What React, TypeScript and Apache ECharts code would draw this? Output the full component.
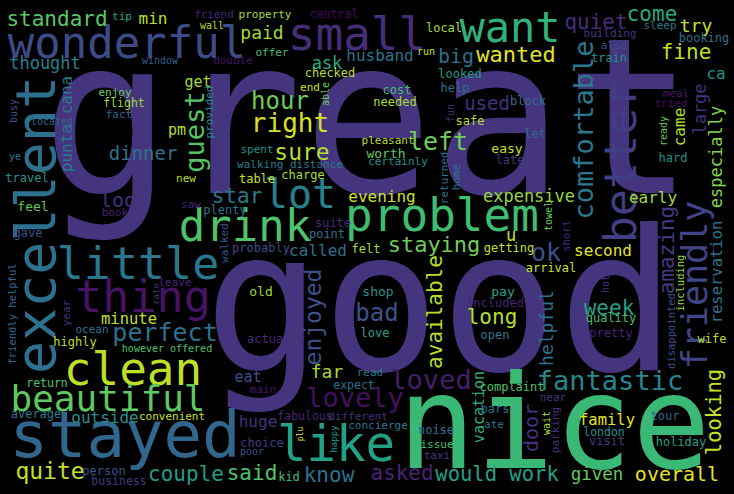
import React, { useEffect, useRef } from "react";
import * as echarts from "echarts";

// word cloud: each word is a scatter point carrying a text label
const words = [
  "great", "good", "nice", "stayed", "excellent", "small", "problem", "clean", "wonderful", "drink",
  "little", "thing", "like", "better", "want", "lot", "beautiful", "friendly", "comfortable", "fantastic",
  "lovely", "loved", "guest", "right", "perfect", "left", "ok", "bad", "hour", "sure",
  "quite", "enjoyed", "wanted", "staying", "quiet", "come", "fine", "star", "long", "week",
  "amazing", "available", "standard", "couple", "said", "know", "asked", "would work", "overall", "looking",
  "door", "big", "look", "dinner", "used", "try", "paid", "far", "helpful", "given",
  "ask", "expensive", "thought", "especially", "large", "u", "husband", "punta cana", "evening", "outside",
  "called", "early", "second", "came", "huge", "ca", "min", "minute", "family", "reservation",
  "get", "pm", "eat", "vacation", "worth", "shop", "easy", "pay", "old", "feel",
  "local", "looked", "help", "cost", "needed", "block", "safe", "let", "late", "checked",
  "pleasant", "certainly", "train", "booking", "hard", "travel", "gave", "table", "charge", "plenty",
  "suite", "point", "probably", "felt", "getting", "arrival", "included", "quality", "pretty", "highly",
  "return", "average", "person", "business", "actually", "choice", "kid", "love", "open", "complaint",
  "bars", "noise", "tour", "holiday", "visit", "wife", "expect", "london", "fabulous", "ate",
  "issue", "taxi", "near", "different", "concierge", "convenient", "read", "main", "enjoy", "flight",
  "fact", "tip", "friend", "property", "central", "offer", "double", "end", "spent", "walking distance",
  "also", "sleep", "building", "meal", "tried", "located", "new", "saw", "leave", "book",
  "ocean", "however offered", "window", "wall", "run", "ye", "poor", "busy", "provided", "able",
  "fun", "returned", "home", "towel", "short", "ready", "including", "hot", "disappointed", "friendly helpful",
  "year", "rate", "walked", "happy", "plu", "wait", "parking",
];

// word weight (rendered font size)
const weights = [
  217, 196, 130, 64, 55, 46, 46, 46, 44, 44,
  45, 45, 49, 45, 42, 40, 36, 35, 27, 27,
  27, 27, 27, 26, 25, 25, 25, 24, 24, 23,
  23, 23, 22, 22, 21, 21, 21, 21, 21, 21,
  21, 21, 21, 21, 21, 21, 21, 20.5, 20, 20.5,
  20, 20, 20, 19, 19, 18, 18, 18, 18, 17.5,
  17, 17, 17, 17, 17, 17, 16, 16, 16, 16,
  16, 16, 16, 16, 16, 16, 16, 15.5, 15.5, 15.5,
  15, 15, 15, 15, 13, 13, 13, 13, 13, 13,
  12, 12, 12, 12, 12, 12, 12, 12, 12, 12,
  11, 11, 12, 12, 12, 12, 12, 12, 12, 12,
  12, 12, 12, 12, 12, 12, 12, 12, 12, 12,
  11.5, 12, 12, 11.5, 12, 12, 12, 12, 12, 12,
  12, 12, 12, 12, 12, 12, 11.5, 11.5, 11.5, 11,
  11, 11, 11, 11, 11, 11, 11, 11, 11, 11.5,
  11, 11, 11, 11, 11.5, 11, 11, 11, 11, 11,
  11, 11, 11, 11, 11, 10, 11, 11, 11, 11,
  11, 10, 10, 10, 10, 10, 10, 10, 11, 10,
  10, 11, 11, 10, 10.5, 10, 10.5, 10, 10.5, 10.5,
  11, 9, 11, 9, 8, 10, 11,
];

// layout position (x, y in the 734 x 494 plane)
const posX = [
  368, 440, 554, 125, 36, 357, 442, 133, 127, 245,
  138, 143, 336, 620, 510, 300, 108, 695, 583, 610,
  355, 431, 194, 290, 165, 438, 546, 377, 280, 302,
  50, 313, 516, 434, 596, 652, 686, 237, 492, 609,
  667, 435, 57, 186, 252, 329, 402, 497, 677, 714,
  531, 456, 124, 143, 487, 696, 262, 327, 546, 597,
  327, 529, 45, 716, 700, 511, 380, 66, 382, 105,
  318, 653, 603, 679, 258, 716, 153, 129, 607, 717,
  198, 177, 248, 479, 386, 378, 507, 503, 261, 33,
  444, 460, 455, 397, 395, 528, 470, 535, 510, 330,
  388, 398, 609, 704, 673, 27, 28, 257, 303, 225,
  333, 327, 261, 366, 509, 551, 495, 611, 611, 75,
  47, 36, 104, 119, 276, 262, 289, 375, 495, 512,
  495, 436, 665, 681, 607, 712, 354, 604, 305, 494,
  437, 437, 553, 358, 378, 172, 370, 263, 115, 124,
  119, 122, 214, 265, 334, 272, 233, 310, 257, 290,
  614, 660, 610, 676, 671, 52, 186, 191, 175, 115,
  92, 167, 160, 212, 426, 15, 252, 13, 209, 325,
  450, 444, 456, 548, 566, 663, 680, 605, 671, 12,
  66, 156, 224, 334, 300, 546, 555,
];

const posY = [
  118, 302, 423, 435, 225, 34, 215, 369, 42, 225,
  263, 296, 444, 162, 27, 194, 398, 285, 130, 380,
  397, 379, 132, 123, 332, 141, 252, 313, 101, 152,
  471, 317, 54, 244, 22, 14, 52, 196, 317, 308,
  250, 312, 19, 474, 473, 475, 473, 474, 474, 412,
  428, 56, 200, 153, 103, 25, 32, 371, 328, 474,
  63, 196, 63, 157, 109, 235, 55, 124, 196, 417,
  250, 197, 250, 127, 421, 73, 18, 319, 420, 272,
  82, 130, 377, 407, 153, 291, 148, 291, 291, 206,
  28, 74, 88, 90, 102, 101, 121, 134, 160, 73,
  140, 161, 58, 38, 158, 178, 233, 179, 175, 210,
  223, 234, 248, 249, 248, 268, 303, 318, 333, 342,
  383, 414, 471, 481, 339, 443, 477, 333, 335, 387,
  409, 430, 416, 442, 441, 339, 385, 432, 416, 424,
  444, 455, 397, 416, 425, 416, 372, 389, 92, 103,
  114, 16, 14, 14, 14, 52, 60, 87, 149, 164,
  45, 25, 33, 93, 103, 121, 178, 204, 282, 212,
  329, 348, 60, 25, 51, 156, 451, 111, 112, 94,
  113, 178, 177, 216, 236, 131, 283, 284, 331, 314,
  313, 294, 243, 439, 434, 423, 430,
];

// 1 = set vertically (reads upward)
const upright = [
  0, 0, 0, 0, 1, 0, 0, 0, 0, 0,
  0, 0, 0, 1, 0, 0, 0, 1, 1, 0,
  0, 0, 1, 0, 0, 0, 0, 0, 0, 0,
  0, 1, 0, 0, 0, 0, 0, 0, 0, 0,
  1, 1, 0, 0, 0, 0, 0, 0, 0, 1,
  1, 0, 0, 0, 0, 0, 0, 0, 1, 0,
  0, 0, 0, 1, 1, 0, 0, 1, 0, 0,
  0, 0, 0, 1, 0, 0, 0, 0, 0, 1,
  0, 0, 0, 1, 0, 0, 0, 0, 0, 0,
  0, 0, 0, 0, 0, 0, 0, 0, 0, 0,
  0, 0, 0, 0, 0, 0, 0, 0, 0, 0,
  0, 0, 0, 0, 0, 0, 0, 0, 0, 0,
  0, 0, 0, 0, 0, 0, 0, 0, 0, 0,
  0, 0, 0, 0, 0, 0, 0, 0, 0, 0,
  0, 0, 0, 0, 0, 0, 0, 0, 0, 0,
  0, 0, 0, 0, 0, 0, 0, 0, 0, 0,
  0, 0, 0, 0, 0, 0, 0, 0, 0, 0,
  0, 0, 0, 0, 0, 0, 0, 1, 1, 1,
  1, 1, 1, 1, 1, 1, 1, 1, 1, 1,
  1, 1, 1, 1, 1, 1, 1,
];

// position on the viridis scale (0 = dark purple, 1 = yellow)
const tones = [
  0.15, 0.15, 0.67, 0.33, 0.37, 0.13, 0.69, 0.9, 0.23, 0.72,
  0.4, 0.05, 0.57, 0.18, 0.64, 0.43, 0.75, 0.2, 0.4, 0.46,
  0.04, 0.08, 0.73, 0.94, 0.37, 0.78, 0.25, 0.25, 0.78, 0.89,
  0.91, 0.25, 0.96, 0.78, 0.13, 0.61, 0.9, 0.4, 0.89, 0.57,
  0.17, 0.89, 0.74, 0.55, 0.72, 0.37, 0.1, 0.57, 0.96, 0.91,
  0.14, 0.37, 0.14, 0.37, 0.14, 0.91, 0.86, 0.87, 0.37, 0.76,
  0.61, 0.84, 0.43, 0.81, 0.14, 0.92, 0.37, 0.41, 0.92, 0.5,
  0.37, 0.86, 0.96, 0.89, 0.15, 0.5, 0.9, 0.91, 0.96, 0.37,
  0.86, 0.89, 0.25, 0.63, 0.76, 0.5, 0.91, 0.58, 0.86, 0.76,
  0.87, 0.55, 0.37, 0.69, 0.87, 0.37, 0.89, 0.33, 0.15, 0.89,
  0.9, 0.5, 0.5, 0.37, 0.5, 0.5, 0.25, 0.92, 0.87, 0.37,
  0.12, 0.37, 0.23, 0.87, 0.91, 0.92, 0.1, 0.7, 0.1, 0.9,
  0.72, 0.4, 0.25, 0.17, 0.12, 0.17, 0.7, 0.58, 0.4, 0.72,
  0.37, 0.37, 0.33, 0.57, 0.17, 0.9, 0.37, 0.5, 0.11, 0.37,
  0.7, 0.17, 0.17, 0.14, 0.4, 0.92, 0.4, 0.06, 0.78, 0.86,
  0.33, 0.61, 0.1, 0.87, 0.02, 0.7, 0.06, 0.92, 0.5, 0.41,
  0.25, 0.4, 0.17, 0.06, 0.03, 0.33, 0.89, 0.1, 0.11, 0.1,
  0.4, 0.72, 0.3, 0.89, 0.91, 0.4, 0.25, 0.25, 0.5, 0.76,
  0.15, 0.37, 0.4, 0.76, 0.11, 0.76, 0.84, 0.15, 0.25, 0.33,
  0.15, 0.15, 0.25, 0.5, 0.96, 0.87, 0.14,
];

const VIRIDIS = [
  "#440154", "#482475", "#414487", "#355f8d", "#2a788e", "#21918c",
  "#22a884", "#44bf70", "#7ad151", "#bddf26", "#fde725",
];

const hexToRgb = (h: string) => [1, 3, 5].map((i) => parseInt(h.slice(i, i + 2), 16));

const viridis = (t: number) => {
  const p = Math.max(0, Math.min(1, t)) * (VIRIDIS.length - 1);
  const i = Math.min(Math.floor(p), VIRIDIS.length - 2);
  const f = p - i;
  const a = hexToRgb(VIRIDIS[i]);
  const b = hexToRgb(VIRIDIS[i + 1]);
  const c = a.map((v, k) => Math.round(v + (b[k] - v) * f));
  return `rgb(${c[0]},${c[1]},${c[2]})`;
};

const WordCloud = () => {
  const chartRef = useRef<HTMLDivElement>(null);

  useEffect(() => {
    if (!chartRef.current) return;
    document.body.style.margin = "0";
    document.body.style.background = "#000";

    const chart = echarts.init(chartRef.current, null, { renderer: "svg" });

    const data = words.map((w, i) => ({
      name: w,
      value: [posX[i], posY[i]],
      label: {
        fontSize: weights[i],
        rotate: upright[i] ? 90 : 0,
        color: viridis(tones[i]),
      },
    }));

    const option: echarts.EChartsOption = {
      backgroundColor: "#000000",
      animation: false,
      grid: { left: 0, right: 0, top: 0, bottom: 0 },
      xAxis: { type: "value", min: 0, max: 734, show: false },
      yAxis: { type: "value", min: 0, max: 494, inverse: true, show: false },
      series: [
        {
          type: "scatter",
          symbolSize: 0,
          silent: true,
          itemStyle: { opacity: 1 },
          data,
          label: {
            show: true,
            position: "inside",
            formatter: "{b}",
            fontFamily: "'DejaVu Sans Mono', monospace",
            fontWeight: "normal",
          },
          emphasis: { disabled: true },
        },
      ],
    };

    chart.setOption(option);

    return () => {
      chart.dispose();
    };
  }, []);

  return <div ref={chartRef} style={{ width: "734px", height: "494px" }} />;
};

export default function App() {
  return <WordCloud />;
}
